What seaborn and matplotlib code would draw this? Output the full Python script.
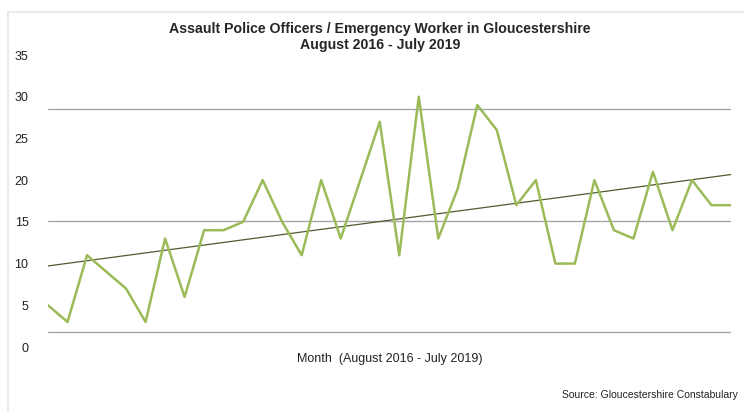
import numpy as np
import pandas as pd
import matplotlib
matplotlib.use("Agg")
import matplotlib.pyplot as plt
import seaborn as sns

# monthly counts, August 2016 - July 2019
months = pd.period_range("2016-08", "2019-07", freq="M").strftime("%b %Y").tolist()
assaults = [5, 3, 11, 9, 7, 3, 13, 6, 14, 14, 15, 20,
            15, 11, 20, 13, 20, 27, 11, 30, 13, 19, 29, 26,
            17, 20, 10, 10, 20, 14, 13, 21, 14, 20, 17, 17]
y_ticks = [0, 5, 10, 15, 20, 25, 30, 35]
# horizontal guide lines as they sit in the original chart
guide_lines = [1.76, 15.14, 28.49]

df = pd.DataFrame({"month": months, "idx": np.arange(len(months)), "assaults": assaults})

sns.set_theme(style="white")
plt.rcParams["font.family"] = ["Liberation Sans", "DejaVu Sans"]

fig = plt.figure(figsize=(7.44, 4.12), dpi=100)
ax = fig.add_axes([48 / 744, 65 / 412, 683 / 744, 292 / 412])

for g in guide_lines:
    ax.axhline(g, color="#a6a6a6", linewidth=1.0, zorder=1)

sns.lineplot(data=df, x="idx", y="assaults", color="#9bbb59", linewidth=1.8, ax=ax, zorder=3)
sns.regplot(data=df, x="idx", y="assaults", scatter=False, ci=None, truncate=True,
            line_kws=dict(color="#4f5a2e", linewidth=0.9), ax=ax)

ax.set_xlim(0, len(months) - 1)
ax.set_ylim(0, 35)
ax.set_yticks(y_ticks)
ax.set_yticklabels([str(t) for t in y_ticks], fontsize=9, color="#222222")
ax.set_xticks([])
ax.tick_params(axis="y", length=0, pad=14)
for s in ax.spines.values():
    s.set_visible(False)
ax.set_ylabel("")
ax.set_xlabel("Month  (August 2016 - July 2019)", fontsize=9, color="#222222", labelpad=4)

fig.text(380 / 744, 1 - 37 / 412, "Assault Police Officers / Emergency Worker in Gloucestershire\nAugust 2016 - July 2019",
         ha="center", va="center", fontsize=10.2, fontweight="bold", linespacing=1.2)
fig.text(738 / 744, 1 - 395 / 412, "Source: Gloucestershire Constabulary", ha="right", va="center",
         fontsize=7.5, color="#222222")

# chart frame (top and left edges)
fig.add_artist(plt.Line2D([8 / 744, 1], [1 - 12 / 412, 1 - 12 / 412], color="#e6e6e6", linewidth=1.2))
fig.add_artist(plt.Line2D([8 / 744, 8 / 744], [0, 1 - 12 / 412], color="#e6e6e6", linewidth=1.2))

fig.savefig("out.png", dpi=100)
